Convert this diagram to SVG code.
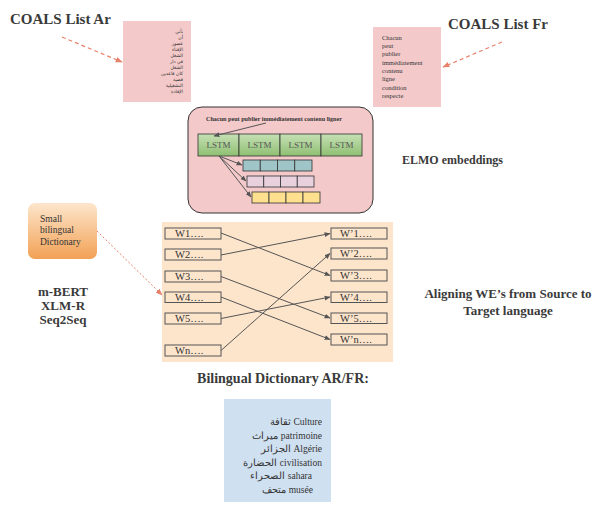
<svg xmlns="http://www.w3.org/2000/svg" width="595" height="506" viewBox="0 0 595 506">
  <style>
    .title { font-family: "Liberation Serif", serif; font-weight: bold; fill: #3a3a3a; }
    .small { font-family: "Liberation Serif", serif; fill: #333; }
    .ar { font-family: "DejaVu Sans", "Noto Sans", sans-serif; fill: #333; font-size: 4.6px; }
    .word rect { fill: #fde5cc; stroke: #555; stroke-width: 1; }
    .word text { font-family: "Liberation Serif", serif; font-size: 10.5px; fill: #333; }
    .cell { stroke: #333; stroke-width: 0.8; }
    .lstm text { font-family: "Liberation Serif", serif; font-size: 9px; fill: #555; text-anchor: middle; }
    .link { stroke: #555; stroke-width: 1; fill: none; marker-end: url(#arrowGray); }
    .dash { stroke: #e8806a; stroke-width: 1.2; fill: none; stroke-dasharray: 4 3; marker-end: url(#arrowSalmon); }
  </style>
  <defs>
    <marker id="arrowGray" viewBox="0 0 10 10" refX="9" refY="5" markerWidth="6" markerHeight="6" orient="auto" markerUnits="userSpaceOnUse">
      <path d="M0,1 L10,5 L0,9 z" fill="#555"/>
    </marker>
    <marker id="arrowSalmon" viewBox="0 0 10 10" refX="9" refY="5" markerWidth="7" markerHeight="7" orient="auto" markerUnits="userSpaceOnUse">
      <path d="M0,1 L10,5 L0,9 z" fill="#e8806a"/>
    </marker>
    <linearGradient id="orangeGrad" x1="0" y1="0" x2="0" y2="1">
      <stop offset="0" stop-color="#fde6cc"/>
      <stop offset="1" stop-color="#f2a155"/>
    </linearGradient>
    <linearGradient id="greenGrad" x1="0" y1="0" x2="0" y2="1">
      <stop offset="0" stop-color="#c6e0b5"/>
      <stop offset="1" stop-color="#8fbf72"/>
    </linearGradient>
  </defs>

  <rect width="595" height="506" fill="#ffffff"/>

  <!-- COALS Arabic list -->
  <g id="coals-ar">
    <text class="title" x="10" y="24" font-size="15">COALS List Ar</text>
    <rect x="123" y="21" width="68" height="81" fill="#f4c9ca"/>
    <g class="ar" text-anchor="end">
      <text x="183" y="33">تأتي</text>
      <text x="183" y="39">أن</text>
      <text x="183" y="45">عصور</text>
      <text x="183" y="51">الإفتاء</text>
      <text x="183" y="57">الشغل</text>
      <text x="183" y="63">في دار</text>
      <text x="183" y="69">الشغل</text>
      <text x="183" y="75">كان قاعدين</text>
      <text x="183" y="81">قضية</text>
      <text x="183" y="87">التشغيلية</text>
      <text x="183" y="93">الإفادة</text>
    </g>
  </g>

  <!-- COALS French list -->
  <g id="coals-fr">
    <text class="title" x="448" y="29" font-size="15">COALS List Fr</text>
    <rect x="373" y="27" width="68" height="80" fill="#f4c9ca"/>
    <g class="small" font-size="6.5">
      <text x="382" y="40">Chacun</text>
      <text x="382" y="48">peut</text>
      <text x="382" y="56">publier</text>
      <text x="382" y="65">immédiatement</text>
      <text x="382" y="73">contenu</text>
      <text x="382" y="81">ligne</text>
      <text x="382" y="90">condition</text>
      <text x="382" y="98">respecte</text>
    </g>
  </g>

  <!-- ELMO block -->
  <g id="elmo">
    <rect x="188" y="107" width="185" height="106" rx="14" fill="#f4c9ca" stroke="#333" stroke-width="1"/>
    <text class="small" x="206" y="121" font-size="6.3" font-weight="bold" textLength="136" lengthAdjust="spacingAndGlyphs">Chacun peut publier immédiatement contenu ligner</text>
    <g class="lstm">
      <rect class="cell" x="198" y="134" width="41" height="22" fill="url(#greenGrad)"/>
      <rect class="cell" x="239" y="134" width="41" height="22" fill="url(#greenGrad)"/>
      <rect class="cell" x="280" y="134" width="41" height="22" fill="url(#greenGrad)"/>
      <rect class="cell" x="321" y="134" width="41" height="22" fill="url(#greenGrad)"/>
      <text x="218.5" y="148">LSTM</text>
      <text x="259.5" y="148">LSTM</text>
      <text x="300.5" y="148">LSTM</text>
      <text x="341.5" y="148">LSTM</text>
    </g>
    <g id="emb-teal">
      <rect class="cell" x="243" y="160" width="17.25" height="11" fill="#9fc5c8"/>
      <rect class="cell" x="260.25" y="160" width="17.25" height="11" fill="#9fc5c8"/>
      <rect class="cell" x="277.5" y="160" width="17.25" height="11" fill="#9fc5c8"/>
      <rect class="cell" x="294.75" y="160" width="17.25" height="11" fill="#9fc5c8"/>
    </g>
    <g id="emb-pink">
      <rect class="cell" x="247" y="176" width="16.75" height="11" fill="#e8d0dc"/>
      <rect class="cell" x="263.75" y="176" width="16.75" height="11" fill="#e8d0dc"/>
      <rect class="cell" x="280.5" y="176" width="16.75" height="11" fill="#e8d0dc"/>
      <rect class="cell" x="297.25" y="176" width="16.75" height="11" fill="#e8d0dc"/>
    </g>
    <g id="emb-yellow">
      <rect class="cell" x="252" y="192" width="17" height="11" fill="#fee08f"/>
      <rect class="cell" x="269" y="192" width="17" height="11" fill="#fee08f"/>
      <rect class="cell" x="286" y="192" width="17" height="11" fill="#fee08f"/>
      <rect class="cell" x="303" y="192" width="17" height="11" fill="#fee08f"/>
    </g>
  </g>
  <text class="title" x="402" y="164" font-size="12">ELMO embeddings</text>

  <!-- Small dictionary -->
  <g id="small-dict">
    <rect x="28" y="203" width="69" height="56" rx="7" fill="url(#orangeGrad)"/>
    <g class="small" font-size="9.5">
      <text x="40" y="222">Small</text>
      <text x="40" y="233">bilingual</text>
      <text x="40" y="245">Dictionary</text>
    </g>
  </g>

  <g id="models" class="title" font-size="13" text-anchor="middle">
    <text x="63" y="296">m-BERT</text>
    <text x="63" y="310">XLM-R</text>
    <text x="63" y="324">Seq2Seq</text>
  </g>

  <!-- Alignment block -->
  <rect x="162" y="222" width="231" height="140" fill="#fde5cc"/>
  <g id="src-w1" class="word"><rect x="165" y="228" width="56" height="11"/><text x="175" y="237">W1….</text></g>
  <g id="src-w2" class="word"><rect x="165" y="249" width="56" height="11"/><text x="175" y="258">W2….</text></g>
  <g id="src-w3" class="word"><rect x="165" y="271" width="56" height="11"/><text x="175" y="280">W3….</text></g>
  <g id="src-w4" class="word"><rect x="165" y="292" width="56" height="10.5"/><text x="175" y="301">W4….</text></g>
  <g id="src-w5" class="word"><rect x="165" y="313" width="56" height="11"/><text x="175" y="322">W5….</text></g>
  <g id="src-wn" class="word"><rect x="165" y="345" width="56" height="11"/><text x="175" y="354">Wn….</text></g>

  <g id="tgt-w1" class="word"><rect x="331" y="228" width="56" height="11"/><text x="340" y="237">W’1….</text></g>
  <g id="tgt-w2" class="word"><rect x="331" y="248" width="56" height="11"/><text x="340" y="257">W’2….</text></g>
  <g id="tgt-w3" class="word"><rect x="331" y="270" width="56" height="11"/><text x="340" y="279">W’3….</text></g>
  <g id="tgt-w4" class="word"><rect x="331" y="292" width="56" height="10.5"/><text x="340" y="301">W’4….</text></g>
  <g id="tgt-w5" class="word"><rect x="331" y="313" width="56" height="10.5"/><text x="340" y="322">W’5….</text></g>
  <g id="tgt-wn" class="word"><rect x="331" y="334" width="56" height="11"/><text x="340" y="343">W’n….</text></g>

  <g id="align-title" class="title" font-size="13" text-anchor="middle">
    <text x="508" y="298">Aligning WE’s from Source to</text>
    <text x="508" y="315">Target language</text>
  </g>

  <text class="title" x="283" y="383" font-size="14" text-anchor="middle">Bilingual Dictionary AR/FR:</text>

  <!-- Bilingual dictionary -->
  <g id="bi-dict">
    <rect x="224" y="399" width="107" height="103" fill="#cfe0f1"/>
    <g class="small" font-size="9.5" text-anchor="end">
      <text x="322" y="425">ثقافة Culture</text>
      <text x="322" y="438.5">ميراث patrimoine</text>
      <text x="322" y="452">الجزائر Algérie</text>
      <text x="322" y="465.5">الحضارة civilisation</text>
      <text x="312" y="479">الصحراء  sahara</text>
      <text x="313" y="492.5">متحف musée</text>
    </g>
  </g>

  <!-- Connectors -->
  <g id="connectors">
    <line class="dash" x1="62" y1="37" x2="122" y2="62"/>
    <line class="dash" x1="502" y1="42" x2="443" y2="67"/>
    <line x1="97" y1="231" x2="162" y2="295" stroke="#e8806a" stroke-width="1" stroke-dasharray="2 2" marker-end="url(#arrowSalmon)"/>
    <line class="link" x1="266" y1="123" x2="214" y2="136"/>
    <line class="link" x1="219" y1="156" x2="242" y2="165"/>
    <line class="link" x1="219" y1="156" x2="246" y2="181"/>
    <line class="link" x1="219" y1="156" x2="251" y2="197"/>
    <line class="link" x1="221" y1="233" x2="330" y2="275.5"/>
    <line class="link" x1="221" y1="255" x2="330" y2="233.5"/>
    <line class="link" x1="221" y1="276.5" x2="330" y2="318"/>
    <line class="link" x1="221" y1="297" x2="330" y2="339.5"/>
    <line class="link" x1="221" y1="318.5" x2="330" y2="297"/>
    <line class="link" x1="221" y1="350.5" x2="330" y2="253.5"/>
  </g>
</svg>
